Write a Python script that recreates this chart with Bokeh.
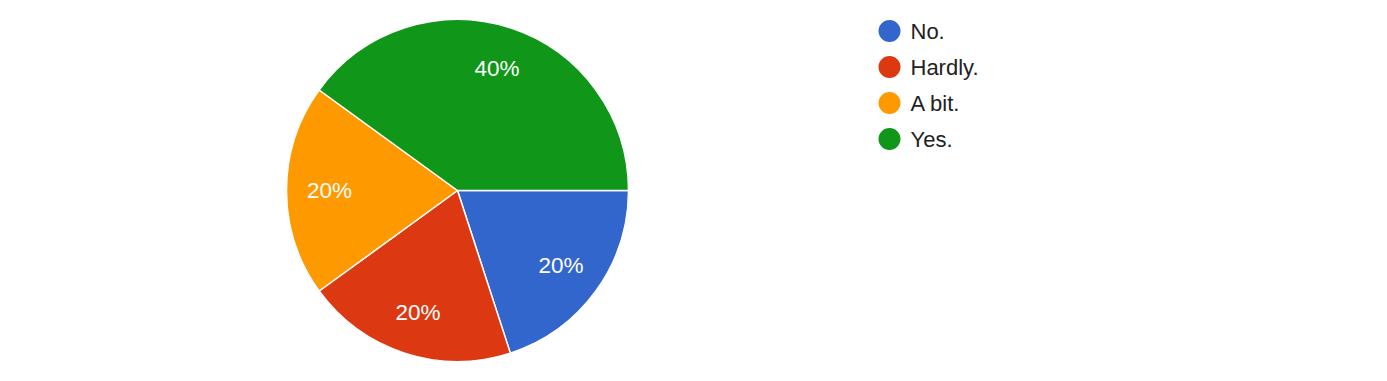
import math
from bokeh.plotting import figure
from bokeh.models import ColumnDataSource
from bokeh.core.properties import value
from bokeh.embed import file_html
from bokeh.resources import INLINE

categories = ["No.", "Hardly.", "A bit.", "Yes."]
counts = [1, 1, 1, 2]
colors = ["#3366cc", "#dc3912", "#ff9900", "#109618"]

W, H = 1371, 365
CX, CY, R = 457, 175, 171
LABEL_R = 128
FONT = "Liberation Sans"

total = sum(counts)
starts, ends, lx, ly, labels = [], [], [], [], []
a = 0.0
for c in counts:
    frac = c / total
    s = a
    e = a - frac * 2 * math.pi
    starts.append(s)
    ends.append(e)
    mid = (s + e) / 2
    lx.append(CX + LABEL_R * math.cos(mid))
    ly.append(CY + LABEL_R * math.sin(mid))
    labels.append(f"{round(frac * 100)}%")
    a = e

p = figure(width=W, height=H, x_range=(0, W), y_range=(0, H),
           output_backend="svg", toolbar_location=None, min_border=0)
p.axis.visible = False
p.grid.visible = False
p.outline_line_color = None
p.background_fill_color = "white"

src = ColumnDataSource(dict(start=starts, end=ends, color=colors,
                            lx=lx, ly=ly, label=labels, cat=categories))
p.wedge(x=CX, y=CY, radius=R, radius_units="screen", start_angle="start", end_angle="end",
        direction="clock", fill_color="color", line_color="white", line_width=1.5, source=src)
p.text(x="lx", y="ly", text="label", source=src, text_color="white",
       text_font=value(FONT), text_font_size="22.5px", text_align="center", text_baseline="middle")

# legend
LEG_X, LEG_Y0, LEG_DY = 889, 334.5, 36
leg_y = [LEG_Y0 - i * LEG_DY for i in range(len(categories))]
lsrc = ColumnDataSource(dict(x=[LEG_X] * len(categories), y=leg_y, color=colors,
                             tx=[LEG_X + 21] * len(categories), cat=categories))
p.scatter(x="x", y="y", size=22, fill_color="color", line_color=None, source=lsrc)
p.text(x="tx", y="y", text="cat", source=lsrc, text_color="#222222",
       text_font=value(FONT), text_font_size="22px", text_align="left", text_baseline="middle")

open("out.html", "w").write(file_html(p, INLINE))
